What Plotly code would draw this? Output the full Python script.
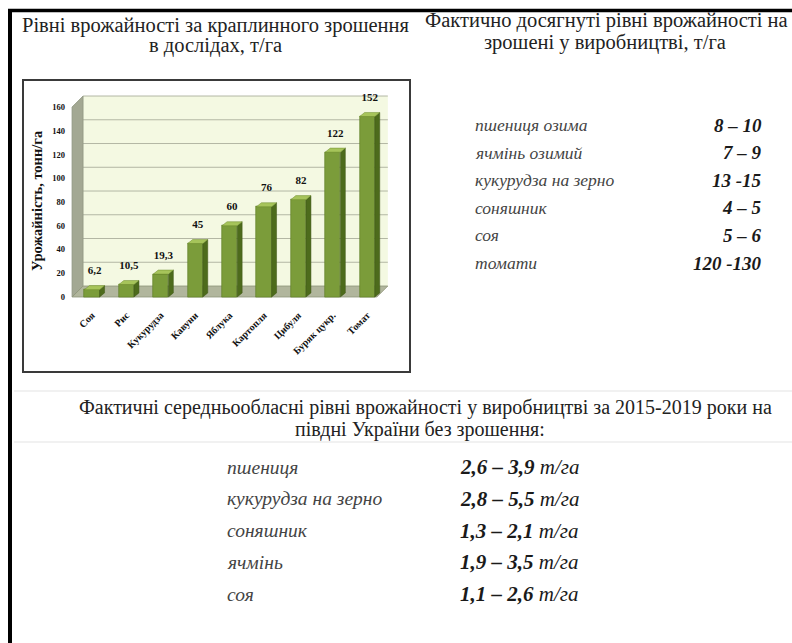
import plotly.graph_objects as go

# ---- data -------------------------------------------------------------
crops = ["Соя", "Рис", "Кукурудза", "Кавуни", "Яблука", "Картопля",
         "Цибуля", "Буряк цукр.", "Томат"]
yields = [6.2, 10.5, 19.3, 45, 60, 76, 82, 122, 152]
y_ticks = [0, 20, 40, 60, 80, 100, 120, 140, 160]

irrigated_crops = ["пшениця озима", "ячмінь озимий", "кукурудза на зерно",
                   "соняшник", "соя", "томати"]
irrigated_ranges = ["8 – 10", "7 – 9", "13 -15", "4 – 5", "5 – 6", "120 -130"]

dry_crops = ["пшениця", "кукурудза на зерно", "соняшник", "ячмінь", "соя"]
dry_ranges = ["2,6 – 3,9", "2,8 – 5,5", "1,3 – 2,1", "1,9 – 3,5", "1,1 – 2,6"]

# ---- page geometry helpers (pixels -> paper) ---------------------------
W, H = 792, 643
SERIF = "Liberation Serif"


def px(x):
    return x / W


def py(y):
    return 1 - y / H


# axis scale of the bar chart
Y_MIN, Y_MAX = -3, 174
X_MIN, X_MAX = -0.756, 8.721
BAR_W = 0.44
BAR_DX, BAR_DY = 0.145, 3.4      # depth of each bar
WALL_DX, WALL_DY = 0.32, 9.26    # depth of the back wall
WALL_L, WALL_R = -0.58, 8.6

xs = list(range(len(crops)))

fig = go.Figure()

# front faces
fig.add_trace(go.Bar(
    x=xs, y=yields, width=BAR_W,
    marker=dict(color="#7b9c3a", line=dict(color="#5a7a22", width=0.6)),
    hoverinfo="skip",
))

# side faces and top faces of the 3D bars
side_x, side_y, top_x, top_y = [], [], [], []
for x, v in zip(xs, yields):
    r = x + BAR_W / 2
    l = x - BAR_W / 2
    side_x += [r, r, r + BAR_DX, r + BAR_DX, r, None]
    side_y += [0, v, v + BAR_DY, BAR_DY, 0, None]
    top_x += [l, l + BAR_DX, r + BAR_DX, r, l, None]
    top_y += [v, v + BAR_DY, v + BAR_DY, v, v, None]

fig.add_trace(go.Scatter(x=side_x, y=side_y, mode="lines", fill="toself",
                         fillcolor="#4d6b1c", line=dict(color="#3e5716", width=0.5),
                         hoverinfo="skip"))
fig.add_trace(go.Scatter(x=top_x, y=top_y, mode="lines", fill="toself",
                         fillcolor="#a6c45a", line=dict(color="#6f8c2e", width=0.5),
                         hoverinfo="skip"))

# value labels (invisible markers keep the text clear of the bar tops)
fig.add_trace(go.Scatter(
    x=[x + BAR_DX / 2 for x in xs], y=[v + BAR_DY for v in yields],
    mode="markers+text", marker=dict(size=12, opacity=0),
    text=[f"{v:g}".replace(".", ",") for v in yields],
    textposition="top center",
    textfont=dict(family=SERIF, size=11, color="#111111", weight="bold"),
    hoverinfo="skip",
))

shapes = []
# back wall
shapes.append(dict(type="rect", xref="x", yref="y", layer="below",
                   x0=WALL_L + WALL_DX, x1=WALL_R, y0=WALL_DY, y1=160 + WALL_DY,
                   fillcolor="#f4f9e2", line=dict(width=0)))
# gridlines on the back wall
for t in y_ticks[1:]:
    shapes.append(dict(type="line", xref="x", yref="y", layer="below",
                       x0=WALL_L + WALL_DX, x1=WALL_R, y0=t + WALL_DY, y1=t + WALL_DY,
                       line=dict(color="#b3b7a4", width=1)))
# left wall
shapes.append(dict(type="path", xref="x", yref="y", layer="below",
                   path=(f"M {WALL_L},0 L {WALL_L},160 "
                         f"L {WALL_L + WALL_DX},{160 + WALL_DY} "
                         f"L {WALL_L + WALL_DX},{WALL_DY} Z"),
                   fillcolor="#a3a893", line=dict(color="#8f9580", width=0.8)))
# floor
shapes.append(dict(type="path", xref="x", yref="y", layer="below",
                   path=(f"M {WALL_L},0 L {WALL_R - WALL_DX},0 "
                         f"L {WALL_R},{WALL_DY} L {WALL_L + WALL_DX},{WALL_DY} Z"),
                   fillcolor="#b1b69d", line=dict(color="#8e9478", width=0.8)))

# chart box
shapes.append(dict(type="rect", xref="paper", yref="paper",
                   x0=px(23), x1=px(410), y0=py(372), y1=py(80),
                   fillcolor="rgba(0,0,0,0)", line=dict(color="#3a3a3a", width=2)))
# page frame
shapes.append(dict(type="line", xref="paper", yref="paper",
                   x0=px(8), x1=1, y0=py(10.5), y1=py(10.5),
                   line=dict(color="#000000", width=3.5)))
shapes.append(dict(type="line", xref="paper", yref="paper",
                   x0=px(10), x1=px(10), y0=py(9), y1=0,
                   line=dict(color="#000000", width=4)))
# faint separators around the lower heading
for yy in (391, 442):
    shapes.append(dict(type="line", xref="paper", yref="paper",
                       x0=px(14), x1=1, y0=py(yy), y1=py(yy),
                       line=dict(color="#ececec", width=1.5)))

ann = []


def text(x, y, s, size, anchor="center", color="#222222", angle=0):
    ann.append(dict(x=px(x), y=py(y), xref="paper", yref="paper", text=s,
                    showarrow=False, xanchor=anchor, yanchor="middle",
                    textangle=angle,
                    font=dict(family=SERIF, size=size, color=color)))


# headings
text(216, 25, "Рівні врожайності за краплинного зрошення", 20.5)
text(216, 46, "в дослідах, т/га", 20.5)
text(606, 21, "Фактично досягнуті рівні врожайності на", 20.5)
text(605, 42, "зрошені у виробництві, т/га", 20.5)
text(425, 407, "Фактичні середньообласні рівні врожайності у виробництві "
     "за 2015-2019 роки на", 20)
text(420, 429, "півдні України без зрошення:", 20)

# y-axis title of the bar chart
text(37, 201, "<b>Урожайність, тонн/га</b>", 14.5, color="#111111", angle=-90)

# irrigated production table
for i, (c, r) in enumerate(zip(irrigated_crops, irrigated_ranges)):
    yy = 125 + i * 27.6
    text(473, yy, f"<i>{c}</i>", 17.5, anchor="left", color="#444444")
    text(764, yy, f"<b><i>{r}</i></b>", 19, anchor="right", color="#1a1a1a")

# rain-fed production table
for i, (c, r) in enumerate(zip(dry_crops, dry_ranges)):
    yy = 467 + i * 31.8
    text(225, yy, f"<i>{c}</i>", 19.5, anchor="left", color="#444444")
    text(458, yy, f"<i><b>{r}</b> т/га</i>", 21, anchor="left", color="#1a1a1a")

fig.update_layout(
    width=W, height=H,
    margin=dict(l=0, r=0, t=0, b=0),
    paper_bgcolor="#ffffff",
    plot_bgcolor="rgba(0,0,0,0)",
    showlegend=False,
    hovermode=False,
    bargap=0,
    shapes=shapes,
    annotations=ann,
    xaxis=dict(domain=[px(66), px(392)], range=[X_MIN, X_MAX],
               tickmode="array", tickvals=xs, ticktext=[f"<b>{c}</b>" for c in crops],
               tickangle=-45, showgrid=False, zeroline=False, showline=False,
               ticks="", ticklabelstandoff=6,
               tickfont=dict(family=SERIF, size=10, color="#111111"),
               fixedrange=True),
    yaxis=dict(domain=[py(300.56), py(90.4)], range=[Y_MIN, Y_MAX],
               tickmode="array", tickvals=y_ticks,
               ticktext=[f"<b>{t}</b>" for t in y_ticks],
               showgrid=False, zeroline=False, showline=False, ticks="",
               tickfont=dict(family=SERIF, size=8.5, color="#111111"),
               fixedrange=True),
)

fig.write_html("out.html")
